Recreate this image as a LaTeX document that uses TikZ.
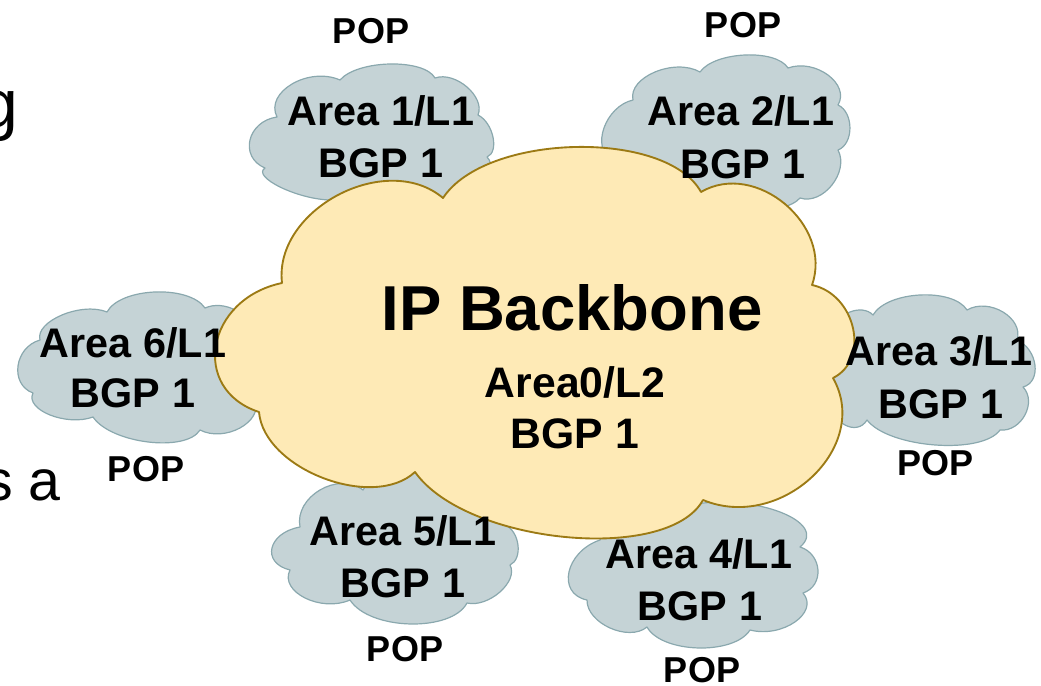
\documentclass[tikz,border=0pt]{standalone}
\usepackage{fontspec}
\setmainfont{Liberation Sans}
\usetikzlibrary{calc}
\definecolor{cloudblue}{RGB}{197,211,214}
\definecolor{cloudedge}{RGB}{138,168,174}
\definecolor{bigfill}{RGB}{254,234,182}
\definecolor{bigedge}{RGB}{156,122,20}
% one cloud lobe from #1 to #2 passing through apex #3
\newcommand\lb[3]{.. controls ($0.1833*(#1)+1.3333*(#3)-0.5167*(#2)$) and ($0.1833*(#2)+1.3333*(#3)-0.5167*(#1)$) .. (#2)}
\tikzset{
  smallcloud/.style={fill=cloudblue, draw=cloudedge, line width=0.9pt, line join=round},
  bigcloud/.style={fill=bigfill, draw=bigedge, line width=1.4pt, line join=round},
  lbl/.style={font=\fontsize{31}{37}\selectfont\bfseries, inner sep=0pt, anchor=base},
  biglbl/.style={font=\fontsize{32}{38}\selectfont\bfseries, inner sep=0pt, anchor=base},
  title/.style={font=\fontsize{47.6}{56}\selectfont\bfseries, inner sep=0pt, anchor=base},
  pop/.style={font=\fontsize{27}{32}\selectfont\bfseries, inner sep=0pt, anchor=base},
  cut/.style={inner sep=0pt, anchor=base east}
}
\begin{document}
\begin{tikzpicture}[x=0.75pt,y=-0.75pt]
\useasboundingbox (0,0) rectangle (1041,685);
% small clouds
\draw[smallcloud] (277,117) \lb{277,117}{340,80}{292,84} \lb{340,80}{435,78}{390,64} \lb{435,78}{478,115}{467,87} \lb{478,115}{487,157}{493,137} \lb{487,157}{440,200}{480,185} \lb{440,200}{330,200}{385,215} \lb{330,200}{265,168}{280,187} \lb{265,168}{277,117}{250,140} -- cycle;
\draw[smallcloud] (633,100) \lb{633,100}{700,72}{655,72} \lb{700,72}{788,68}{745,55} \lb{788,68}{838,105}{828,75} \lb{838,105}{838,150}{850,128} \lb{838,150}{800,198}{832,185} \lb{800,198}{700,200}{750,212} \lb{700,200}{612,160}{640,195} \lb{612,160}{633,100}{604,128} -- cycle;
\draw[smallcloud] (40,340) \lb{40,340}{107,312}{62,315} \lb{107,312}{205,308}{155,292} \lb{205,308}{245,330}{235,310} \lb{245,330}{255,400}{262,365} \lb{255,400}{200,430}{240,428} \lb{200,430}{93,417}{148,442} \lb{93,417}{33,393}{50,415} \lb{33,393}{40,340}{18,366} -- cycle;
\draw[smallcloud] (873,315) \lb{873,315}{967,310}{920,295} \lb{967,310}{1017,340}{1003,312} \lb{1017,340}{1023,387}{1035,365} \lb{1023,387}{1000,430}{1025,415} \lb{1000,430}{867,420}{935,445} \lb{867,420}{830,400}{845,425} \lb{830,400}{835,330}{815,365} \lb{835,330}{873,315}{850,312} -- cycle;
\draw[smallcloud] (300,527) \lb{300,527}{363,490}{320,490} \lb{363,490}{450,480}{405,470} \lb{450,480}{505,525}{490,490} \lb{505,525}{510,565}{518,545} \lb{510,565}{467,603}{500,592} \lb{467,603}{350,600}{410,624} \lb{350,600}{290,570}{305,598} \lb{290,570}{300,527}{272,548} -- cycle;
\draw[smallcloud] (600,540) \lb{600,540}{690,505}{640,505} \lb{690,505}{800,547}{780,512} \lb{800,547}{803,593}{818,570} \lb{803,593}{750,630}{795,622} \lb{750,630}{647,627}{698,648} \lb{647,627}{587,600}{610,628} \lb{587,600}{600,540}{569,572} -- cycle;
% big cloud
\draw[bigcloud] (443,198) \lb{443,198}{701,192}{575,147} \lb{701,192}{812,285}{785,204} \lb{812,285}{833,378}{853,328} \lb{833,378}{703,500}{812,477} \lb{703,500}{415,472}{565,537} \lb{415,472}{259,412}{323,478} \lb{259,412}{282,283}{216,345} \lb{282,283}{443,198}{338,195} -- cycle;
% texts
\node[title] (ipb) at (572,330) {IP Backbone};
\node[biglbl] (a0a) at (575,397) {Area0/L2};
\node[biglbl] (a0b) at (575,448) {BGP 1};
\node[lbl] (a1a) at (381,125) {Area 1/L1};
\node[lbl] (a1b) at (381,177) {BGP 1};
\node[pop] (p1) at (371,44) {POP};
\node[lbl] (a2a) at (741,125) {Area 2/L1};
\node[lbl] (a2b) at (743,178) {BGP 1};
\node[pop] (p2) at (743,38) {POP};
\node[lbl] (a3a) at (939,365) {Area 3/L1};
\node[lbl] (a3b) at (941,418) {BGP 1};
\node[pop] (p3) at (935,475) {POP};
\node[lbl] (a4a) at (699,568) {Area 4/L1};
\node[lbl] (a4b) at (700,620) {BGP 1};
\node[pop] (p4) at (702,682) {POP};
\node[lbl] (a5a) at (403,545) {Area 5/L1};
\node[lbl] (a5b) at (403,597) {BGP 1};
\node[pop] (p5) at (405,661) {POP};
\node[lbl] (a6a) at (133,357) {Area 6/L1};
\node[lbl] (a6b) at (133,407) {BGP 1};
\node[pop] (p6) at (146,481) {POP};
% cut-off slide text at the left edge
\node[cut, font=\fontsize{51}{60}\selectfont] (cutg) at (19,127) {g};
\node[cut, font=\fontsize{43}{52}\selectfont] (cutsa) at (61,500) {s a};
\end{tikzpicture}
\end{document}
